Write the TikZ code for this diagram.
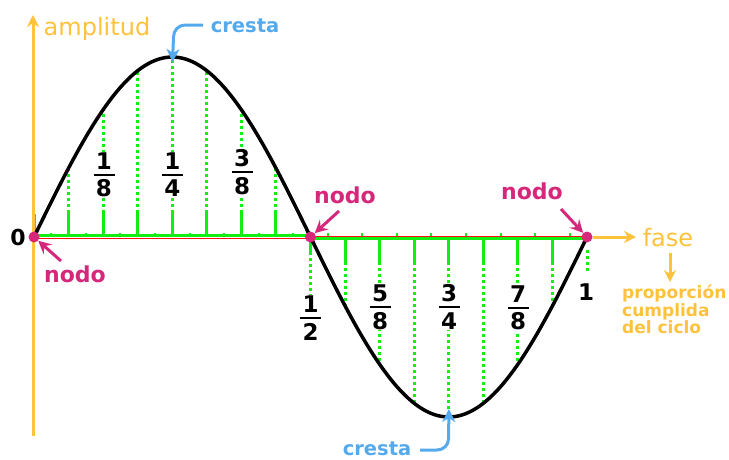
\documentclass[tikz,border=0pt]{standalone}
\usepackage{fontspec}
\setmainfont{DejaVu Sans}
\usetikzlibrary{arrows.meta}
\definecolor{ora}{HTML}{FFC23C}
\definecolor{blu}{HTML}{55AAEE}
\definecolor{pnk}{HTML}{D6287A}
\definecolor{grn}{HTML}{11EE11}
\definecolor{rd}{HTML}{FF1010}
\newcommand\frc[2]{\vbox{\hbox to 21pt{\hss #1\hss}\kern4pt\hrule height 2.2pt\kern4pt\hbox to 21pt{\hss #2\hss}}}
\begin{document}
\begin{tikzpicture}[x=1pt,y=-1pt,
  dotl/.style={draw=grn,line width=3pt,dash pattern=on 3pt off 3pt},
  soll/.style={draw=grn,line width=3pt},
  oarr/.style={draw=ora,line width=3pt,-{Stealth[length=12pt,width=12pt,inset=4pt]}},
  barr/.style={draw=blu,line width=3pt,-{Stealth[length=13pt,width=13pt,inset=4pt]}},
  parr/.style={draw=pnk,line width=3pt,-{Stealth[length=13pt,width=13pt,inset=5pt]}},
  pdot/.style={circle,fill=pnk,inner sep=0pt,minimum size=11pt},
  olbl/.style={text=ora,inner sep=0pt,font=\fontsize{24}{24}\selectfont},
  blbl/.style={text=blu,inner sep=0pt,font=\bfseries\fontsize{19.5}{19.5}\selectfont},
  plbl/.style={text=pnk,inner sep=0pt,font=\bfseries\fontsize{22}{22}\selectfont},
  fracl/.style={fill=white,inner sep=1pt,font=\bfseries\fontsize{23}{23}\selectfont}]
\useasboundingbox (0,0) rectangle (729,459);
\fill[white] (0,0) rectangle (729,459);
% green measure lines
\draw[soll] (34,237) -- (34,214);
\foreach \k in {1,...,7}{
  \pgfmathsetmacro\xx{34+34.5625*\k}
  \pgfmathsetmacro\yy{237-180*sin(22.5*\k)}
  \draw[soll] (\xx,237) -- (\xx,213);
  \draw[dotl] (\xx,213) -- (\xx,\yy);
}
\foreach \k in {9,...,15}{
  \pgfmathsetmacro\xx{34+34.5625*\k}
  \pgfmathsetmacro\yy{237-180*sin(22.5*\k)}
  \draw[soll] (\xx,237) -- (\xx,262);
  \draw[dotl] (\xx,262) -- (\xx,\yy);
}
\draw[soll] (310.5,237) -- (310.5,252);
\draw[dotl] (310.5,252) -- (310.5,300);
\draw[dotl] (587,250) -- (587,272);
\foreach \j in {0,...,15}{
  \pgfmathsetmacro\xx{34+17.28125*(2*\j+1)}
  \draw[grn,line width=2pt] (\xx,237) -- (\xx,233);
}
% horizontal axis
\draw[grn,line width=3pt] (34,235.5) -- (311,235.5);
\draw[rd,line width=1.2pt] (34,238.2) -- (311,238.2);
\draw[grn,line width=3pt] (311,238.5) -- (587,238.5);
\draw[rd,line width=1.2pt] (311,236.3) -- (587,236.3);
% orange axes
\coordinate (yb) at (33,436);
\coordinate (yt) at (33,15);
\draw[oarr] (yb) -- (yt);
\coordinate (xt) at (636,237);
% curve
\draw[line width=3.5pt,line join=round] plot[domain=0:1,samples=161,smooth] ({34+553*\x},{237-180*sin(360*\x)});
% node dots
\node[pdot] (p0) at (34,237) {};
\node[pdot] (p1) at (310.5,237) {};
\node[pdot] (p2) at (587,237) {};
\draw[oarr] (p2.east) -- (xt);
% labels
\node[olbl,anchor=base] (amp) at (97,35) {amplitud};
\node[olbl,anchor=base] (fase) at (668,246) {fase};
\coordinate (fd) at (670,282);
\draw[oarr] (670,253) -- (fd);
\node[text=ora,inner sep=0pt,align=left,anchor=north west,font=\bfseries\fontsize{17}{14.5}\selectfont] (prop) at (622,285) {proporción\\cumplida\\del ciclo};
\node[blbl,anchor=base] (cr1) at (245,32) {cresta};
\node[blbl,anchor=base] (cr2) at (377,455) {cresta};
\coordinate (crest1) at (172.5,57);
\coordinate (crest2) at (449,417);
\coordinate (c1s) at (203,25);
\coordinate (c2s) at (420,450);
\draw[barr] (c1s) -- (185,25) to[out=180,in=90] (173.5,37) -- ([yshift=-5pt]crest1);
\draw[barr] (c2s) -- (437,450) to[out=0,in=-90] (448.5,439) -- ([yshift=8pt]crest2);
\node[plbl,anchor=base] (nd0) at (75,282) {nodo};
\node[plbl,anchor=base] (nd1) at (345,203) {nodo};
\node[plbl,anchor=base] (nd2) at (532,199) {nodo};
\coordinate (a0) at (61,261);
\coordinate (a1) at (339,211);
\coordinate (a2) at (561,209);
\draw[parr] (a0) -- (p0);
\draw[parr] (a1) -- (p1);
\draw[parr] (a2) -- (p2);
\node[inner sep=0pt,anchor=base,font=\bfseries\fontsize{22}{22}\selectfont] (zero) at (18,245) {0};
\node[inner sep=0pt,anchor=base,font=\bfseries\fontsize{23}{23}\selectfont] (one) at (586,300) {1};
\node[fracl] (f1) at (104,175) {\frc{1}{8}};
\node[fracl] (f2) at (172.5,175) {\frc{1}{4}};
\node[fracl] (f3) at (242,172) {\frc{3}{8}};
\node[fracl] (f4) at (310.5,318) {\frc{1}{2}};
\node[fracl] (f5) at (380,307) {\frc{5}{8}};
\node[fracl] (f6) at (449,307) {\frc{3}{4}};
\node[fracl] (f7) at (518,308) {\frc{7}{8}};
\end{tikzpicture}
\end{document}
